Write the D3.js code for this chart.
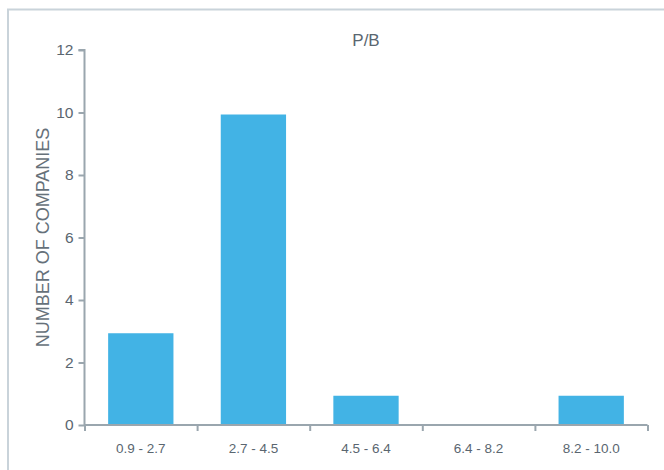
<!DOCTYPE html>
<html><head><meta charset="utf-8">
<script src="https://cdn.jsdelivr.net/npm/d3@7"></script>
<style>
body{margin:0;background:#fff;}
svg{display:block;font-family:"Liberation Sans",Arial,Helvetica,sans-serif;}
</style></head>
<body><svg id="c" width="664" height="470"></svg>
<script>
const categories = ["0.9 - 2.7","2.7 - 4.5","4.5 - 6.4","6.4 - 8.2","8.2 - 10.0"];
const counts = [3,10,1,0,1];
const yTicks = [0,2,4,6,8,10,12];
const title = "P/B";
const yTitle = "NUMBER OF COMPANIES";

const svg = d3.select("#c");
const m = {l:84.5, r:647.5, t:50, b:425};
const axisColor = "#9aa6ae", textColor = "#5a6670", barColor = "#42b3e5";

// frame
svg.append("rect").attr("x",8).attr("y",9.5).attr("width",700).attr("height",500)
  .attr("fill","none").attr("stroke","#c9d3da").attr("stroke-width",2);

const x = d3.scaleBand().domain(categories).range([m.l,m.r]).paddingInner(0.42).paddingOuter(0.21);
const y = d3.scaleLinear().domain([0,12]).range([m.b,m.t]);

svg.append("g").selectAll("rect").data(counts).join("rect")
  .attr("x",(d,i)=>x(categories[i]))
  .attr("width",x.bandwidth())
  .attr("y",d=>Math.min(y(d)+2,m.b))
  .attr("height",d=>Math.max(0,m.b-y(d)-2))
  .attr("fill",barColor);

// y axis
const ya = svg.append("g").attr("transform",`translate(${m.l},0)`)
  .call(d3.axisLeft(y).tickValues(yTicks).tickSize(6).tickPadding(5));
// x axis with boundary ticks
const xb = d3.scaleLinear().domain([0,categories.length]).range([m.l,m.r]);
const xa = svg.append("g").attr("transform",`translate(0,${m.b})`)
  .call(d3.axisBottom(xb).ticks(categories.length).tickSize(6).tickFormat(""));
svg.append("g").selectAll("text").data(categories).join("text")
  .attr("x",d=>x(d)+x.bandwidth()/2).attr("y",452.5)
  .attr("text-anchor","middle").attr("font-size",13.5).attr("fill",textColor).text(d=>d);

[ya,xa].forEach(g=>{
  g.select(".domain").attr("stroke",axisColor).attr("stroke-width",2);
  g.selectAll(".tick line").attr("stroke",axisColor).attr("stroke-width",2);
  g.selectAll(".tick text").attr("fill",textColor).attr("font-size",15.5).attr("font-family","'Liberation Sans',Arial,sans-serif");
});
ya.select(".domain").attr("d",`M-6,${y(12)}H0V${m.b}`);
xa.select(".domain").attr("d",`M${m.l},0H${m.r}`);

svg.append("text").attr("x",(m.l+m.r)/2).attr("y",46).attr("text-anchor","middle")
  .attr("font-size",17).attr("fill",textColor).text(title);
svg.append("text").attr("transform",`translate(48.5,${(m.t+m.b)/2}) rotate(-90)`)
  .attr("text-anchor","middle").attr("font-size",18).attr("fill","#66717a").text(yTitle);
</script></body></html>
